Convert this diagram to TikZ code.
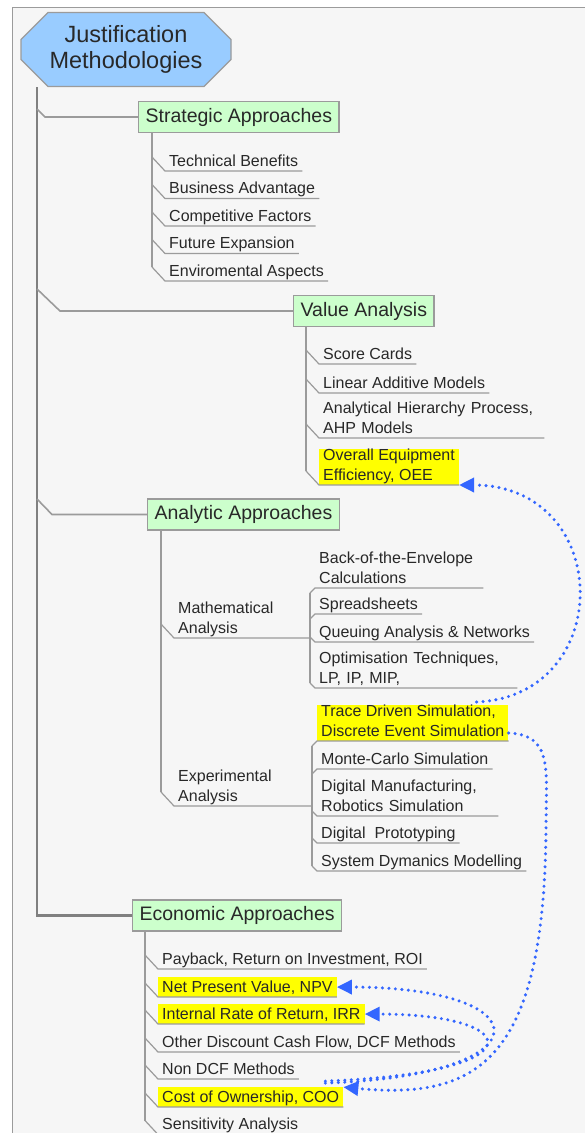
\documentclass[tikz,border=0pt]{standalone}
\usepackage{fontspec}
\setmainfont{Liberation Sans}
\usetikzlibrary{arrows.meta,shapes.misc,calc}
\definecolor{mm_blue}{RGB}{153,204,255}
\definecolor{mm_green}{RGB}{204,255,204}
\definecolor{mm_yellow}{RGB}{255,255,0}
\definecolor{mm_line}{RGB}{155,155,155}
\definecolor{mm_trunk}{RGB}{128,128,128}
\definecolor{mm_text}{RGB}{40,40,40}
\definecolor{mm_link}{RGB}{51,102,255}
\definecolor{mm_paper}{RGB}{246,246,246}
\tikzstyle{frame}=[fill=mm_paper,draw=mm_line,line width=1pt]
\tikzstyle{root}=[chamfered rectangle,chamfered rectangle xsep=14pt,
  chamfered rectangle ysep=13pt,fill=mm_blue,draw=mm_line,line width=1.2pt,
  minimum width=210pt,minimum height=74pt,inner sep=0pt,align=center,
  text=mm_text,font=\fontsize{23.5}{25.5}\selectfont]
\tikzstyle{topic}=[rectangle,anchor=west,fill=mm_green,draw=mm_line,
  line width=1.2pt,inner xsep=7pt,inner ysep=0pt,minimum height=31pt,
  text=mm_text,font=\fontsize{19.5}{22}\selectfont]
\tikzstyle{leaf}=[anchor=south west,inner xsep=4pt,inner ysep=0pt,align=left,
  text=mm_text,font=\fontsize{16}{19.5}\selectfont,
  execute at begin node={\rule{0pt}{15pt}},
  execute at end node={\rule[-4.5pt]{0pt}{4.5pt}}]
\tikzstyle{hl}=[leaf,fill=mm_yellow]
\tikzstyle{none}=[]
\tikzstyle{trunk}=[draw=mm_trunk,line width=2.6pt]
\tikzstyle{branch}=[draw=mm_line,line width=1.6pt]
\tikzstyle{twig}=[draw=mm_line,line width=1.2pt]
\tikzstyle{link}=[draw=mm_link,line width=3.4pt,line cap=round,
  dash pattern=on 0pt off 6.5pt,-{Triangle[length=15pt 0 0,width=14pt 0 0]}]

\begin{document}
\begin{tikzpicture}[x=1pt, y=-1pt]
        \useasboundingbox (0, 0) rectangle (585, 1133);
        \draw [style=frame] (12, 7) rectangle (640, 1180);
        \node [style=root] (0) at (126, 49.5) {Justification\\Methodologies};
        \node [style=topic] (1) at (138, 117) {Strategic Approaches};
        \node [style=topic] (2) at (293, 311) {Value Analysis};
        \node [style=topic] (3) at (147, 514.5) {Analytic Approaches};
        \node [style=topic] (4) at (132, 915.5) {Economic Approaches};
        \node [style=none] (5) at (37, 109) {};
        \node [style=none] (6) at (45, 117) {};
        \node [style=none] (7) at (37, 289) {};
        \node [style=none] (8) at (60, 311) {};
        \node [style=none] (9) at (37, 499) {};
        \node [style=none] (10) at (52, 514.5) {};
        \node [style=leaf] (11) at (165, 171) {Technical Benefits};
        \node [style=leaf] (12) at (165, 198.5) {Business Advantage};
        \node [style=leaf] (13) at (165, 226) {Competitive Factors};
        \node [style=leaf] (14) at (165, 253.5) {Future Expansion};
        \node [style=leaf] (15) at (165, 281) {Enviromental Aspects};
        \node [style=leaf] (16) at (319, 364) {Score Cards};
        \node [style=leaf] (17) at (319, 393) {Linear Additive Models};
        \node [style=leaf, text width=217pt] (18) at (319, 438) {Analytical Hierarchy Process,\\AHP Models};
        \node [style=hl] (19) at (319, 485) {Overall Equipment\\Efficiency, OEE};
        \node [style=leaf] (20) at (174, 638) {Mathematical\\Analysis};
        \node [style=leaf] (21) at (174, 806) {Experimental\\Analysis};
        \node [style=leaf, text width=160pt] (22) at (315, 588) {Back-of-the-Envelope\\Calculations};
        \node [style=leaf] (23) at (315, 614) {Spreadsheets};
        \node [style=leaf] (24) at (315, 642) {Queuing Analysis \& Networks};
        \node [style=leaf, text width=194pt] (25) at (315, 688) {Optimisation Techniques,\\LP, IP, MIP,};
        \node [style=hl] (26) at (317, 741) {Trace Driven Simulation,\\Discrete Event Simulation};
        \node [style=leaf] (27) at (317, 769) {Monte-Carlo Simulation};
        \node [style=leaf, text width=173pt] (28) at (317, 816) {Digital Manufacturing,\\Robotics Simulation};
        \node [style=leaf] (29) at (317, 843) {Digital~~Prototyping};
        \node [style=leaf] (30) at (317, 871) {System Dymanics Modelling};
        \node [style=leaf] (31) at (158, 969) {Payback, Return on Investment, ROI};
        \node [style=hl] (32) at (158, 997) {Net Present Value, NPV};
        \node [style=hl] (33) at (158, 1024) {Internal Rate of Return, IRR};
        \node [style=leaf] (34) at (158, 1052) {Other Discount Cash Flow, DCF Methods};
        \node [style=leaf] (35) at (158, 1079) {Non DCF Methods};
        \node [style=hl] (36) at (158, 1107) {Cost of Ownership, COO};
        \node [style=leaf] (37) at (158, 1134.5) {Sensitivity Analysis};
        \node [style=none] (38) at (310, 638) {};
        \node [style=none] (39) at (312, 806) {};
        \node [style=none] (40) at (546, 830) {};
        % trunk and main branches
        \draw [style=trunk] ([xshift=-89pt]0.south) |- (4);
        \draw [style=branch] (5.center) -- (6.center) -- (1);
        \draw [style=branch] (7.center) -- (8.center) -- (2);
        \draw [style=branch] (9.center) -- (10.center) -- (3);
        \draw [style=twig] ([xshift=14pt]1.south west) -- ($(15.south west)+(-13,-14)$);
        \draw [style=twig] ([xshift=13pt]2.south west) -- ($(19.south west)+(-13,-14)$);
        \draw [style=twig] ([xshift=14pt]3.south west) -- ($(21.south west)+(-13,-14)$);
        \draw [style=twig] ([xshift=13pt]4.south west) -- ($(37.south west)+(-13,-14)$);
        % leaves
        \draw [style=twig] ($(11.south west)+(-13,-14)$) -- (11.south west) -- (11.south east);
        \draw [style=twig] ($(12.south west)+(-13,-14)$) -- (12.south west) -- (12.south east);
        \draw [style=twig] ($(13.south west)+(-13,-14)$) -- (13.south west) -- (13.south east);
        \draw [style=twig] ($(14.south west)+(-13,-14)$) -- (14.south west) -- (14.south east);
        \draw [style=twig] ($(15.south west)+(-13,-14)$) -- (15.south west) -- (15.south east);
        \draw [style=twig] ($(16.south west)+(-13,-14)$) -- (16.south west) -- (16.south east);
        \draw [style=twig] ($(17.south west)+(-13,-14)$) -- (17.south west) -- (17.south east);
        \draw [style=twig] ($(18.south west)+(-13,-14)$) -- (18.south west) -- (18.south east);
        \draw [style=twig] ($(19.south west)+(-13,-14)$) -- (19.south west) -- (19.south east);
        \draw [style=twig] ($(20.south west)+(-13,-14)$) -- (20.south west) -- (38.center);
        \draw [style=twig] ($(21.south west)+(-13,-14)$) -- (21.south west) -- (39.center);
        \draw [style=twig] ($(22.south west)+(-5,5)$) -- ($(25.south west)+(-5,-5)$);
        \draw [style=twig] ($(22.south west)+(-5,5)$) -- (22.south west) -- (22.south east);
        \draw [style=twig] ($(23.south west)+(-5,5)$) -- (23.south west) -- (23.south east);
        \draw [style=twig] ($(24.south west)+(-5,-5)$) -- (24.south west) -- (24.south east);
        \draw [style=twig] ($(25.south west)+(-5,-5)$) -- (25.south west) -- (25.south east);
        \draw [style=twig] ($(26.south west)+(-5,5)$) -- ($(30.south west)+(-5,-5)$);
        \draw [style=twig] ($(26.south west)+(-5,5)$) -- (26.south west) -- (26.south east);
        \draw [style=twig] ($(27.south west)+(-5,5)$) -- (27.south west) -- (27.south east);
        \draw [style=twig] ($(28.south west)+(-5,-5)$) -- (28.south west) -- (28.south east);
        \draw [style=twig] ($(29.south west)+(-5,-5)$) -- (29.south west) -- (29.south east);
        \draw [style=twig] ($(30.south west)+(-5,-5)$) -- (30.south west) -- (30.south east);
        \draw [style=twig] ($(31.south west)+(-13,-14)$) -- (31.south west) -- (31.south east);
        \draw [style=twig] ($(32.south west)+(-13,-14)$) -- (32.south west) -- (32.south east);
        \draw [style=twig] ($(33.south west)+(-13,-14)$) -- (33.south west) -- (33.south east);
        \draw [style=twig] ($(34.south west)+(-13,-14)$) -- (34.south west) -- (34.south east);
        \draw [style=twig] ($(35.south west)+(-13,-14)$) -- (35.south west) -- (35.south east);
        \draw [style=twig] ($(36.south west)+(-13,-14)$) -- (36.south west) -- (36.south east);
        \draw [style=twig] ($(37.south west)+(-13,-14)$) -- (37.south west) -- (37.south east);
        % dotted links
        \draw [style=link] ([xshift=-32pt,yshift=3pt]26.north east) .. controls +(140,-6) and +(155,0) .. (19.south east);
        \draw [style=link] ([yshift=8pt]26.south east) .. controls +(45,2) and +(0,-60) .. (40.center) .. controls +(-2,230) and +(135,13) .. (36.north east);
        \draw [style=link] ([xshift=-18pt,yshift=4pt]36.north east) .. controls +(225,-8) and +(205,0) .. (32.east);
        \draw [style=link] ([xshift=-18pt,yshift=6pt]36.north east) .. controls +(215,-8) and +(160,0) .. (33.east);
\end{tikzpicture}
\end{document}
